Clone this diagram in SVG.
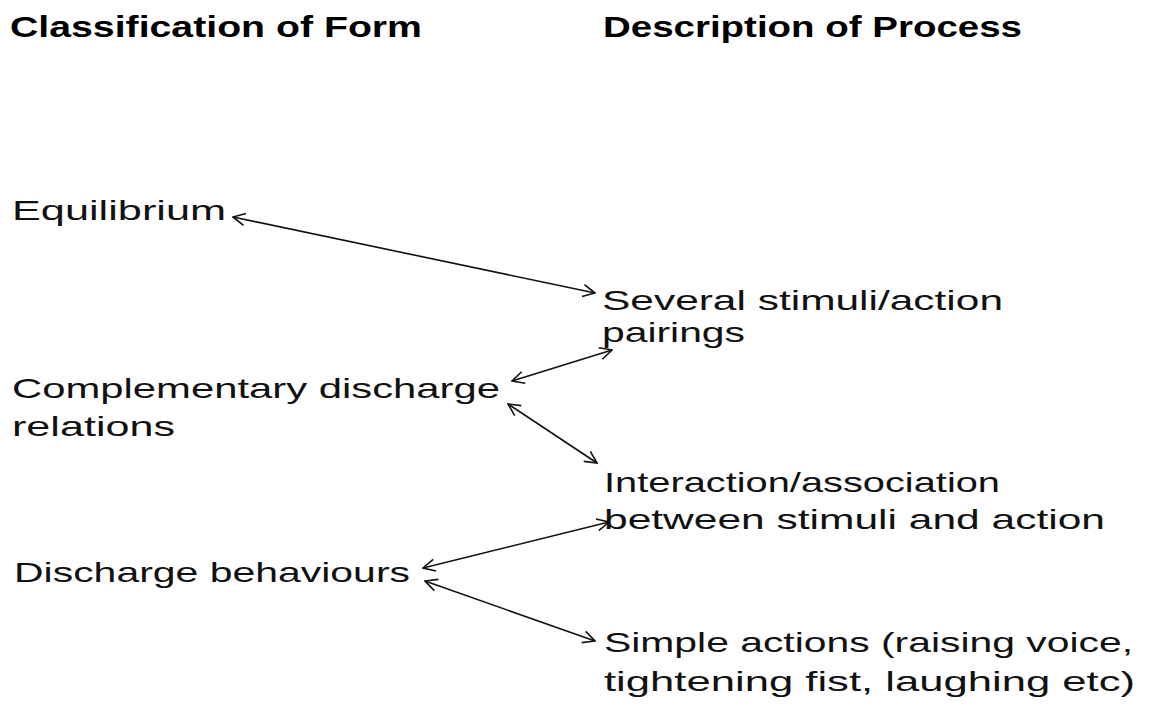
<svg xmlns="http://www.w3.org/2000/svg" width="1152" height="711" viewBox="0 0 1152 711">
<style>
.h{font-family:"Liberation Sans",Arial,sans-serif;font-weight:bold;font-size:29px;fill:#000}
.t{font-family:"Liberation Sans",Arial,sans-serif;font-size:28px;fill:#111}
.c{stroke:#111;stroke-width:1.6;fill:none;marker-start:url(#a);marker-end:url(#a)}
</style>
<defs>
<marker id="a" viewBox="0 0 14 14" refX="13" refY="7" markerWidth="14" markerHeight="14" markerUnits="userSpaceOnUse" orient="auto-start-reverse">
<path d="M1,1 L13,7 L1,13" fill="none" stroke="#111" stroke-width="1.6"/>
</marker>
</defs>
<rect width="1152" height="711" fill="#fff"/>
<g id="head-form"><text class="h" x="10" y="37" textLength="412" lengthAdjust="spacingAndGlyphs">Classification of Form</text></g>
<g id="head-process"><text class="h" x="603" y="37" textLength="419" lengthAdjust="spacingAndGlyphs">Description of Process</text></g>
<g id="equilibrium"><text class="t" x="12" y="220" textLength="214" lengthAdjust="spacingAndGlyphs">Equilibrium</text></g>
<g id="complementary"><text class="t" x="12" y="398" textLength="488" lengthAdjust="spacingAndGlyphs">Complementary discharge</text><text class="t" x="12" y="436" textLength="163" lengthAdjust="spacingAndGlyphs">relations</text></g>
<g id="discharge"><text class="t" x="14" y="582" textLength="396" lengthAdjust="spacingAndGlyphs">Discharge behaviours</text></g>
<g id="several"><text class="t" x="602" y="310" textLength="401" lengthAdjust="spacingAndGlyphs">Several stimuli/action</text><text class="t" x="602" y="342" textLength="143" lengthAdjust="spacingAndGlyphs">pairings</text></g>
<g id="interaction"><text class="t" x="604" y="492" textLength="396" lengthAdjust="spacingAndGlyphs">Interaction/association</text><text class="t" x="604" y="529" textLength="501" lengthAdjust="spacingAndGlyphs">between stimuli and action</text></g>
<g id="simple"><text class="t" x="604" y="652" textLength="529" lengthAdjust="spacingAndGlyphs">Simple actions (raising voice,</text><text class="t" x="604" y="691" textLength="531" lengthAdjust="spacingAndGlyphs">tightening fist, laughing etc)</text></g>
<g id="connectors">
<line class="c" x1="233" y1="217" x2="595" y2="293"/>
<line class="c" x1="512" y1="381" x2="612" y2="350"/>
<line class="c" x1="508" y1="404" x2="597" y2="463"/>
<line class="c" x1="423" y1="568" x2="609" y2="522"/>
<line class="c" x1="425" y1="581" x2="595" y2="641"/>
</g>
</svg>
